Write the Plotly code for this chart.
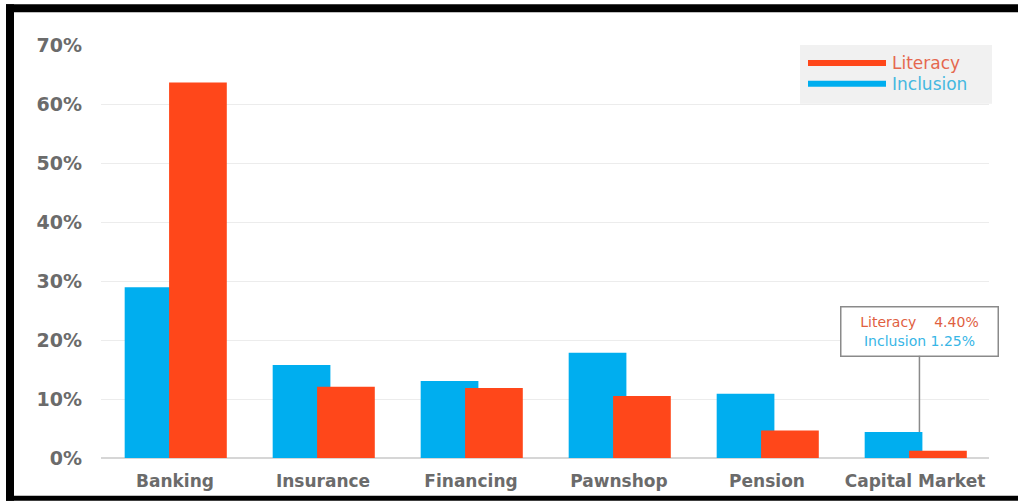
import plotly.graph_objects as go

categories = ["Banking", "Insurance", "Financing", "Pawnshop", "Pension", "Capital Market"]
inclusion_blue = [28.94, 15.76, 13.05, 17.82, 10.91, 4.40]
literacy_red = [63.63, 12.08, 11.85, 10.49, 4.66, 1.25]
y_ticks = [0, 10, 20, 30, 40, 50, 60, 70]
y_tick_labels = [f"{v}%" for v in y_ticks]

BLUE = "#00AEEF"
RED = "#FF471A"

# plot-area geometry (pixels) used to place decorative elements
L, W, T, H = 101, 888, 45, 415


def px_x(px):
    return (px - L) / W


def px_y(py):
    return (T + H - py) / H


fig = go.Figure()
fig.add_trace(go.Bar(x=categories, y=inclusion_blue, name="Inclusion", marker_color=BLUE,
                     marker_line_width=0, width=0.39, offset=-0.34, showlegend=False))
fig.add_trace(go.Bar(x=categories, y=literacy_red, name="Literacy", marker_color=RED,
                     marker_line_width=0, width=0.39, offset=-0.04, showlegend=False))

shapes = []
# black frame (top, left, bottom)
for x0, x1, y0, y1 in [(6, 1018, 4, 12), (6, 14, 4, 503), (6, 1018, 498, 503)]:
    shapes.append(dict(type="rect", xref="paper", yref="paper", x0=px_x(x0), x1=px_x(x1),
                       y0=px_y(y1), y1=px_y(y0), fillcolor="black", line_width=0, layer="above"))
# legend background and swatches
shapes.append(dict(type="rect", xref="paper", yref="paper", x0=px_x(800), x1=px_x(992),
                   y0=px_y(104), y1=px_y(45), fillcolor="#f1f1f1", line_width=0, layer="below"))
shapes.append(dict(type="line", xref="paper", yref="paper", x0=px_x(808), x1=px_x(886),
                   y0=px_y(63), y1=px_y(63), line=dict(color=RED, width=6)))
shapes.append(dict(type="line", xref="paper", yref="paper", x0=px_x(808), x1=px_x(886),
                   y0=px_y(84), y1=px_y(84), line=dict(color=BLUE, width=6)))

annotations = [
    dict(xref="paper", yref="paper", x=px_x(890), y=px_y(63), xanchor="left", yanchor="middle",
         text="Literacy", showarrow=False, font=dict(family="DejaVu Sans", size=17, color="#E5684F")),
    dict(xref="paper", yref="paper", x=px_x(890), y=px_y(84), xanchor="left", yanchor="middle",
         text="Inclusion", showarrow=False, font=dict(family="DejaVu Sans", size=17, color="#45B8E0")),
    dict(x=5.03, y=inclusion_blue[5], xref="x", yref="y", ax=0, ay=-101, axref="pixel", ayref="pixel",
         showarrow=True, arrowhead=0, arrowwidth=1.5, arrowcolor="#8a8a8a",
         text=("<span style='color:#E0603F'>Literacy&nbsp;&nbsp;&nbsp;&nbsp;4.40%</span><br>"
               "<span style='color:#38B6E6'>Inclusion&nbsp;1.25%</span>"),
         align="center", width=150, height=42, borderpad=3, bordercolor="#8a8a8a", borderwidth=1.5,
         bgcolor="white", font=dict(family="DejaVu Sans", size=14)),
]

fig.update_layout(
    width=1018, height=503,
    margin=dict(l=L, r=1018 - L - W, t=T, b=503 - T - H),
    paper_bgcolor="white", plot_bgcolor="white",
    barmode="overlay",
    shapes=shapes, annotations=annotations,
    xaxis=dict(range=[-0.5, 5.5], showgrid=False, showline=False, ticks="", ticklabelstandoff=11,
               tickfont=dict(family="DejaVu Sans", size=17, color="#6b6b6b", weight="bold")),
    yaxis=dict(range=[0, 70], tickvals=y_ticks, ticktext=y_tick_labels, showgrid=True,
               gridcolor="#ececec", gridwidth=1, zeroline=True, zerolinecolor="#d6d6d6", zerolinewidth=2,
               ticks="", ticklabelstandoff=18,
               tickfont=dict(family="DejaVu Sans", size=19, color="#6b6b6b", weight="bold")),
    showlegend=False,
)

fig.write_html("out.html")
